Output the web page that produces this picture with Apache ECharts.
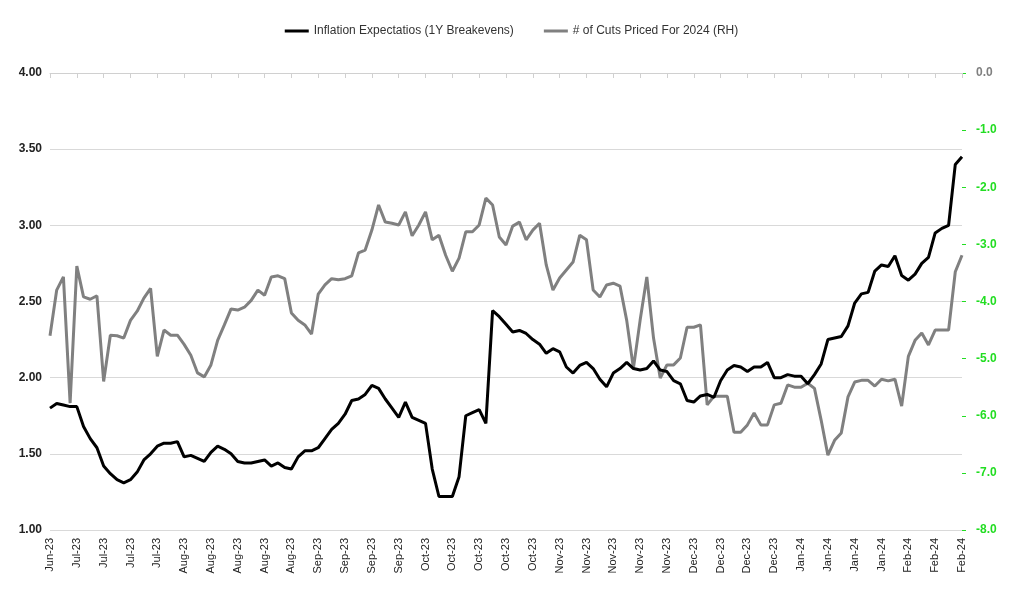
<!DOCTYPE html>
<html>
<head>
    <meta charset="utf-8" />
    <title>Inflation Expectations vs Cuts Priced</title>
    <style>
        html, body { margin: 0; padding: 0; background: #fff; }
        #main { width: 1023px; height: 590px; }
    </style>
</head>
<body>
    <div id="main"></div>
    <script type="text/javascript" src="https://cdn.jsdelivr.net/npm/echarts@6/dist/echarts.min.js"></script>
    <script type="text/javascript">
        // weekly tick labels (4 observations per week)
        const weekLabels = ['Jun-23', 'Jul-23', 'Jul-23', 'Jul-23', 'Jul-23',
            'Aug-23', 'Aug-23', 'Aug-23', 'Aug-23', 'Aug-23',
            'Sep-23', 'Sep-23', 'Sep-23', 'Sep-23',
            'Oct-23', 'Oct-23', 'Oct-23', 'Oct-23', 'Oct-23',
            'Nov-23', 'Nov-23', 'Nov-23', 'Nov-23', 'Nov-23',
            'Dec-23', 'Dec-23', 'Dec-23', 'Dec-23',
            'Jan-24', 'Jan-24', 'Jan-24', 'Jan-24',
            'Feb-24', 'Feb-24', 'Feb-24'];

        // 1Y breakevens (left axis)
        const breakevens = [1.80, 1.83, 1.82, 1.81, 1.81, 1.68, 1.60, 1.54, 1.42, 1.37,
            1.33, 1.31, 1.33, 1.38, 1.46, 1.50, 1.55, 1.57, 1.57, 1.58,
            1.48, 1.49, 1.47, 1.45, 1.51, 1.55, 1.53, 1.50, 1.45, 1.44,
            1.44, 1.45, 1.46, 1.42, 1.44, 1.41, 1.40, 1.48, 1.52, 1.52,
            1.54, 1.60, 1.66, 1.70, 1.76, 1.85, 1.86, 1.89, 1.95, 1.93,
            1.86, 1.80, 1.74, 1.84, 1.74, 1.72, 1.70, 1.40, 1.22, 1.22,
            1.22, 1.35, 1.75, 1.77, 1.79, 1.70, 2.44, 2.40, 2.35, 2.30,
            2.31, 2.29, 2.25, 2.22, 2.16, 2.19, 2.17, 2.07, 2.03, 2.08,
            2.10, 2.06, 1.99, 1.94, 2.03, 2.06, 2.10, 2.06, 2.05, 2.06,
            2.11, 2.05, 2.04, 1.98, 1.96, 1.85, 1.84, 1.88, 1.89, 1.87,
            1.98, 2.05, 2.08, 2.07, 2.04, 2.07, 2.07, 2.10, 2.00, 2.00,
            2.02, 2.01, 2.01, 1.96, 2.02, 2.09, 2.25, 2.26, 2.27, 2.34,
            2.49, 2.55, 2.56, 2.70, 2.74, 2.73, 2.80, 2.67, 2.64, 2.68,
            2.75, 2.79, 2.95, 2.98, 3.00, 3.40, 3.45];

        // # of cuts priced for 2024 (right axis)
        const cutsPriced = [-4.60, -3.80, -3.57, -5.78, -3.38, -3.92, -3.96, -3.90, -5.40, -4.59,
            -4.60, -4.64, -4.33, -4.17, -3.94, -3.77, -4.96, -4.50, -4.59, -4.59,
            -4.75, -4.94, -5.25, -5.32, -5.11, -4.68, -4.41, -4.13, -4.15, -4.10,
            -3.98, -3.80, -3.89, -3.57, -3.55, -3.60, -4.20, -4.33, -4.41, -4.57,
            -3.87, -3.71, -3.60, -3.62, -3.60, -3.55, -3.15, -3.10, -2.75, -2.31,
            -2.61, -2.63, -2.66, -2.43, -2.85, -2.66, -2.43, -2.92, -2.84, -3.19,
            -3.47, -3.24, -2.78, -2.78, -2.66, -2.19, -2.31, -2.87, -3.01, -2.68,
            -2.61, -2.92, -2.75, -2.63, -3.36, -3.80, -3.59, -3.45, -3.31, -2.84,
            -2.92, -3.80, -3.92, -3.71, -3.68, -3.73, -4.33, -5.17, -4.33, -3.57,
            -4.64, -5.34, -5.11, -5.11, -4.99, -4.45, -4.45, -4.41, -5.81, -5.66,
            -5.66, -5.66, -6.29, -6.29, -6.16, -5.95, -6.16, -6.16, -5.81, -5.78,
            -5.46, -5.50, -5.50, -5.43, -5.52, -6.08, -6.69, -6.43, -6.30, -5.67,
            -5.41, -5.38, -5.38, -5.48, -5.36, -5.39, -5.36, -5.83, -4.96, -4.68,
            -4.55, -4.76, -4.50, -4.50, -4.50, -3.48, -3.19];

        const perWeek = 4;
        let categories = [];
        for (let i = 0; i < breakevens.length; i++) {
            categories.push(weekLabels[Math.floor(i / perWeek)]);
        }

        const chart = echarts.init(document.getElementById('main'));
        chart.setOption({
            animation: false,
            textStyle: { fontFamily: 'Liberation Sans, Arial, sans-serif' },
            legend: {
                top: 20,
                left: 'center',
                itemGap: 30,
                itemWidth: 24,
                icon: 'rect',
                itemHeight: 3,
                textStyle: { fontSize: 12, color: '#333' },
                data: ['Inflation Expectatios (1Y Breakevens)', '# of Cuts Priced For 2024 (RH)']
            },
            grid: { left: 50, right: 61, top: 73, bottom: 60 },
            xAxis: {
                type: 'category',
                data: categories,
                boundaryGap: false,
                axisLine: { lineStyle: { color: '#d0d0d0' } },
                axisTick: { interval: perWeek - 1, lineStyle: { color: '#d0d0d0' } },
                axisLabel: { interval: perWeek - 1, rotate: 90, color: '#222', fontSize: 11, margin: 8 }
            },
            yAxis: [{
                type: 'value',
                min: 1, max: 4, interval: 0.5,
                axisLabel: { formatter: v => v.toFixed(2), fontWeight: 'bold', color: '#222', fontSize: 12 },
                splitLine: { lineStyle: { color: '#d9d9d9' } },
                axisLine: { show: false }, axisTick: { show: false }
            }, {
                type: 'value',
                min: -8, max: 0, interval: 1,
                position: 'right',
                axisLabel: {
                    formatter: v => v.toFixed(1), fontWeight: 'bold', fontSize: 12, margin: 14,
                    color: v => (Number(v) === 0 ? '#808080' : '#22dd22')
                },
                splitLine: { show: false },
                axisLine: { show: false },
                axisTick: { show: true, length: 4, inside: false, lineStyle: { color: '#22dd22' } }
            }],
            series: [{
                name: 'Inflation Expectatios (1Y Breakevens)',
                type: 'line',
                data: breakevens,
                yAxisIndex: 0,
                showSymbol: false,
                lineStyle: { color: '#000', width: 3 },
                itemStyle: { color: '#000' },
                z: 3
            }, {
                name: '# of Cuts Priced For 2024 (RH)',
                type: 'line',
                data: cutsPriced,
                yAxisIndex: 1,
                showSymbol: false,
                lineStyle: { color: '#808080', width: 3 },
                itemStyle: { color: '#808080' },
                z: 2
            }]
        });
    </script>
</body>
</html>
